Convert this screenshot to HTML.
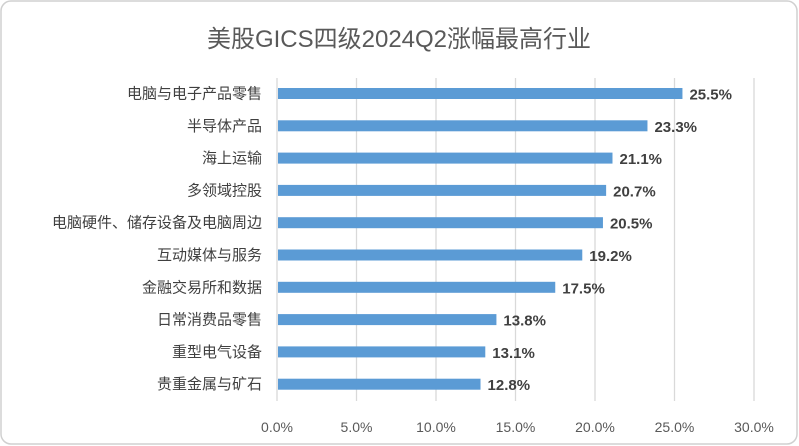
<!DOCTYPE html>
<html><head><meta charset="utf-8"><style>
body{margin:0;background:#fff}
svg{display:block;font-family:"Liberation Sans","Noto Sans CJK SC",sans-serif}
</style></head><body>
<svg width="799" height="446" id="c">
<rect x="1" y="1" width="796" height="443" rx="10" fill="#fff" stroke="#d0d0d0" stroke-width="1.5"/>
<text x="399" y="47" text-anchor="middle" font-size="24" fill="#595959">美股GICS四级2024Q2涨幅最高行业</text>
<g id="grid"></g><g id="bars"></g><g id="labels"></g>
</svg>
<script>
const categories=["电脑与电子产品零售","半导体产品","海上运输","多领域控股","电脑硬件、储存设备及电脑周边","互动媒体与服务","金融交易所和数据","日常消费品零售","重型电气设备","贵重金属与矿石"];
const values=[25.5,23.3,21.1,20.7,20.5,19.2,17.5,13.8,13.1,12.8];
const ticks=[0,5,10,15,20,25,30];
const ns="http://www.w3.org/2000/svg";
const x0=277,pxPer=15.9,y0=93.5,step=32.3,bh=11;
const xs=v=>x0+v*pxPer, ys=i=>y0+i*step;
const g=document.getElementById('grid'),b=document.getElementById('bars'),l=document.getElementById('labels');
function mk(tag,at,parent,txt){const e=document.createElementNS(ns,tag);for(const k in at)e.setAttribute(k,at[k]);if(txt!==undefined)e.textContent=txt;parent.appendChild(e);return e;}
ticks.forEach(t=>{
 const ln=mk('line',{x1:xs(t),x2:xs(t),y1:78,y2:401,stroke:'#d9d9d9','stroke-width':1.3},g);
 
 
 const tx=mk('text',{x:xs(t),y:432,'text-anchor':'middle','font-size':14,fill:'#595959'},g,t.toFixed(1)+'%');
 
 
});
categories.forEach((c,i)=>{
 const y=ys(i);
 const r=mk('rect',{x:x0+1,y:y-bh/2,width:xs(values[i])-x0-1,height:bh,fill:'#5b9bd5'},b);
 
 
 const cl=mk('text',{x:262,y:y+5,'text-anchor':'end','font-size':15,fill:'#404040'},l,c);
 
 
 const vl=mk('text',{x:xs(values[i])+7,y:y+6,'font-size':15,'font-weight':'bold',fill:'#404040'},l,values[i].toFixed(1)+'%');
 
 
});
</script>
</body></html>
